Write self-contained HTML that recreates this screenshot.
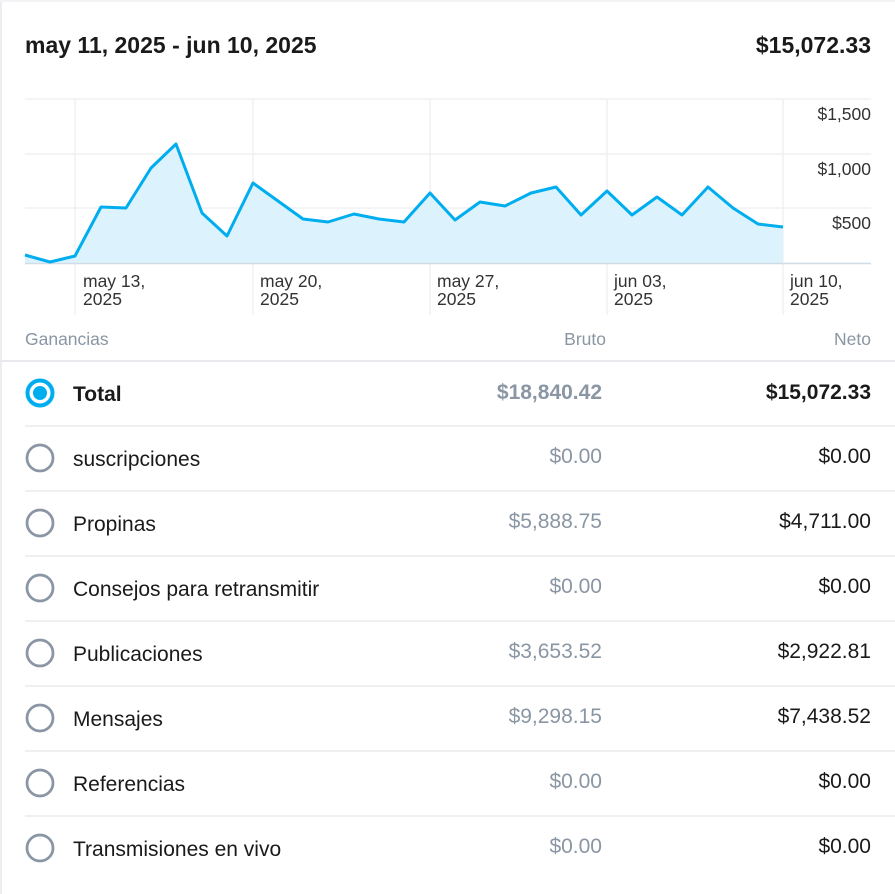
<!DOCTYPE html>
<html><head><meta charset="utf-8"><style>
body{margin:0;width:895px;height:894px;background:#fff;font-family:"Liberation Sans",sans-serif;position:relative;overflow:hidden}
.b{position:absolute}
.t{position:absolute;white-space:nowrap}
</style></head><body>
<div class="b" style="left:0;top:0;width:2px;height:894px;background:#eceef1"></div>
<div class="b" style="left:0;top:0;width:895px;height:2px;background:#f2f3f5"></div>
<div class="t" style="left:25px;top:32px;font-size:23px;font-weight:bold;color:#1a1a1a">may 11, 2025 - jun 10, 2025</div>
<div class="t" style="right:24px;top:32px;font-size:23px;font-weight:bold;color:#1a1a1a">$15,072.33</div>
<svg class="b" style="left:0;top:0" width="895" height="320">
<g stroke="#eef0f2" stroke-width="1.5">
<line x1="25" y1="99" x2="871" y2="99"/><line x1="25" y1="154" x2="871" y2="154"/><line x1="25" y1="208" x2="871" y2="208"/>
<line x1="75" y1="99" x2="75" y2="315"/><line x1="253" y1="99" x2="253" y2="315"/><line x1="430" y1="99" x2="430" y2="315"/><line x1="607" y1="99" x2="607" y2="315"/><line x1="783" y1="99" x2="783" y2="315"/>
</g>
<polygon fill="#dcf3fd" points="25,263 25,255 50,262 75,256 101,207 126,208 151,168 176,144 202,213 227,236 253,183 278,201 303,219 328,222 354,214 379,219 404,222 430,193 455,220 480,202 505,206 531,193 556,187 581,215 607,191 632,215 657,197 682,215 708,187 733,208 758,224 783,227 783,263"/>
<line x1="25" y1="263.5" x2="871" y2="263.5" stroke="#cfdde6" stroke-width="1.5"/>
<polyline fill="none" stroke="#00aeef" stroke-width="3" stroke-linejoin="round" points="25,255 50,262 75,256 101,207 126,208 151,168 176,144 202,213 227,236 253,183 278,201 303,219 328,222 354,214 379,219 404,222 430,193 455,220 480,202 505,206 531,193 556,187 581,215 607,191 632,215 657,197 682,215 708,187 733,208 758,224 783,227"/>
<g font-family="Liberation Sans, sans-serif" font-size="17.5" fill="#333" text-anchor="end">
<text x="871" y="120">$1,500</text><text x="871" y="175">$1,000</text><text x="871" y="229">$500</text>
</g>
<g font-family="Liberation Sans, sans-serif" font-size="17.5" fill="#333">
<text x="83" y="287">may 13,</text><text x="83" y="305">2025</text>
<text x="260" y="287">may 20,</text><text x="260" y="305">2025</text>
<text x="437" y="287">may 27,</text><text x="437" y="305">2025</text>
<text x="614" y="287">jun 03,</text><text x="614" y="305">2025</text>
<text x="790" y="287">jun 10,</text><text x="790" y="305">2025</text>
</g>
</svg>
<div class="t" style="left:25px;top:329px;font-size:17.5px;color:#8a96a3">Ganancias</div>
<div class="t" style="right:289px;top:329px;font-size:17.5px;color:#8a96a3">Bruto</div>
<div class="t" style="right:24px;top:329px;font-size:17.5px;color:#8a96a3">Neto</div>
<div class="b" style="left:0;top:360px;width:895px;height:1.5px;background:#e8eaed"></div>
<svg class="b" style="left:0;top:361px" width="895" height="533">
<g stroke="#e4e6e9" stroke-width="1.3">
<line x1="25" y1="65" x2="895" y2="65"/><line x1="25" y1="130" x2="895" y2="130"/><line x1="25" y1="195" x2="895" y2="195"/><line x1="25" y1="260" x2="895" y2="260"/><line x1="25" y1="325" x2="895" y2="325"/><line x1="25" y1="390" x2="895" y2="390"/><line x1="25" y1="455" x2="895" y2="455"/>
</g>
<circle cx="40" cy="32" r="12.5" fill="none" stroke="#00aeef" stroke-width="4"/><circle cx="40" cy="32" r="7" fill="#00aeef"/>
<g fill="none" stroke="#8a96a3" stroke-width="2.8">
<circle cx="40" cy="97" r="13"/><circle cx="40" cy="162" r="13"/><circle cx="40" cy="227" r="13"/><circle cx="40" cy="292" r="13"/><circle cx="40" cy="357" r="13"/><circle cx="40" cy="422" r="13"/><circle cx="40" cy="487" r="13"/>
</g>
<g font-family="Liberation Sans, sans-serif" font-size="21" fill="#1a1a1a">
<text x="73" y="40" font-weight="bold">Total</text>
<text x="73" y="105">suscripciones</text><text x="73" y="170">Propinas</text><text x="73" y="235">Consejos para retransmitir</text><text x="73" y="300">Publicaciones</text><text x="73" y="365">Mensajes</text><text x="73" y="430">Referencias</text><text x="73" y="495">Transmisiones en vivo</text>
</g>
<g font-family="Liberation Sans, sans-serif" font-size="21" fill="#8a96a3" text-anchor="end">
<text x="602" y="38" font-weight="bold">$18,840.42</text>
<text x="602" y="102">$0.00</text><text x="602" y="167">$5,888.75</text><text x="602" y="232">$0.00</text><text x="602" y="297">$3,653.52</text><text x="602" y="362">$9,298.15</text><text x="602" y="427">$0.00</text><text x="602" y="492">$0.00</text>
</g>
<g font-family="Liberation Sans, sans-serif" font-size="21" fill="#1a1a1a" text-anchor="end">
<text x="871" y="38" font-weight="bold">$15,072.33</text>
<text x="871" y="102">$0.00</text><text x="871" y="167">$4,711.00</text><text x="871" y="232">$0.00</text><text x="871" y="297">$2,922.81</text><text x="871" y="362">$7,438.52</text><text x="871" y="427">$0.00</text><text x="871" y="492">$0.00</text>
</g>
</svg>
</body></html>
